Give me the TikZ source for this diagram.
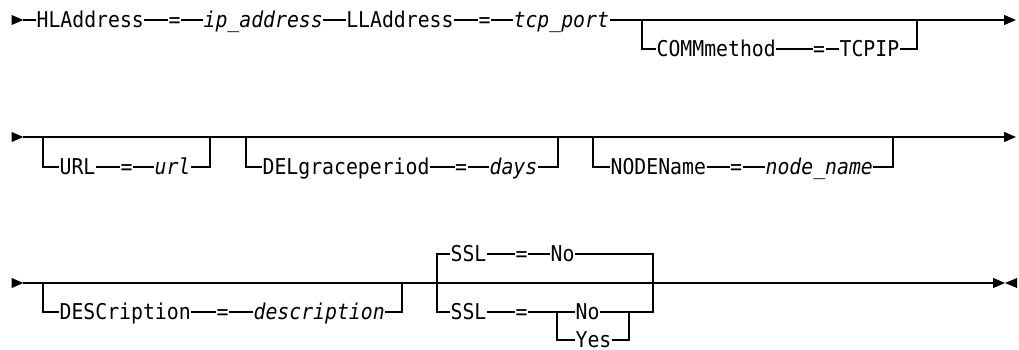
\documentclass[tikz,border=0pt]{standalone}
\usepackage{fontspec}
\usepackage{tikz}
\usetikzlibrary{arrows.meta}
\newfontfamily\railfont{DejaVu Sans Mono}
\newcommand{\railsize}{\railfont\fontsize{19.8}{24}\selectfont}
\newcommand{\rt}[1]{\scalebox{1}[1.1]{#1}}

\begin{document}
\begin{tikzpicture}[x=1pt, y=-1pt, line width=1.2pt,
  kw/.style={anchor=west, inner sep=0pt, font=\railsize, text height=19.5pt, text depth=3.6pt},
  var/.style={kw, font=\railsize\itshape},
  flat/.style={kw, text height=15.9pt, text depth=0pt},
  tip/.style={-{Triangle[length=12pt,width=10pt]}}]
  \useasboundingbox (0,0) rectangle (1019,350);

  \coordinate (s1) at (23.3,20);
  \coordinate (e1) at (1016,20);
  \fill (s1) -- ++(-11.6,-5) -- ++(0,10) -- cycle;
  \node[kw]  (hl)     at (36,20)    {\rt{HLAddress}};
  \node[kw]  (hleq)   at (168,20)   {\rt{=}};
  \node[var] (ip)     at (203,20)   {\rt{ip\_address}};
  \node[kw]  (ll)     at (345.7,20) {\rt{LLAddress}};
  \node[kw]  (lleq)   at (478,20)   {\rt{=}};
  \node[var] (port)   at (513,20)   {\rt{tcp\_port}};
  \draw (s1) -- (hl) -- (hleq) -- (ip) -- (ll) -- (lleq) -- (port);
  \draw[tip] (port) -- (e1);
  \coordinate (commin) at (642,20);
  \coordinate (commout) at (917,20);
  \node[kw]  (comm)   at (656,49)   {\rt{COMMmethod}};
  \node[kw]  (commeq) at (812.5,49) {\rt{=}};
  \node[kw]  (tcpip)  at (839,49)   {\rt{TCPIP}};
  \draw (commin) |- (comm) -- (commeq) -- (tcpip) -| (commout);

  \coordinate (s2) at (23.3,137);
  \coordinate (e2) at (1016,137);
  \fill (s2) -- ++(-11.6,-5) -- ++(0,10) -- cycle;
  \draw[tip] (s2) -- (e2);
  \coordinate (urlin) at (43,137);
  \coordinate (urlout) at (210,137);
  \node[kw]  (url)    at (59,167)    {\rt{URL}};
  \node[kw]  (urleq)  at (120,167)   {\rt{=}};
  \node[var] (urlval) at (154,167)   {\rt{url}};
  \draw (urlin) |- (url) -- (urleq) -- (urlval) -| (urlout);
  \coordinate (delin) at (246,137);
  \coordinate (delout) at (558,137);
  \node[kw]  (del)    at (262,167)   {\rt{DELgraceperiod}};
  \node[kw]  (deleq)  at (454.5,167) {\rt{=}};
  \node[var] (days)   at (489,167)   {\rt{days}};
  \draw (delin) |- (del) -- (deleq) -- (days) -| (delout);
  \coordinate (nodein) at (593,137);
  \coordinate (nodeout) at (893,137);
  \node[kw]  (nodenm) at (610,167)   {\rt{NODEName}};
  \node[kw]  (nodeeq) at (729.5,167) {\rt{=}};
  \node[var] (nodeval) at (765,167)  {\rt{node\_name}};
  \draw (nodein) |- (nodenm) -- (nodeeq) -- (nodeval) -| (nodeout);

  \coordinate (s3) at (23.3,283);
  \coordinate (e3) at (1005,283);
  \fill (s3) -- ++(-11.6,-5) -- ++(0,10) -- cycle;
  \draw[tip] (s3) -- (e3);
  \fill (e3) -- ++(12,-5) -- ++(0,10) -- cycle;
  \coordinate (descin) at (43,283);
  \coordinate (descout) at (402,283);
  \node[kw]  (desc)    at (59,312)  {\rt{DESCription}};
  \node[kw]  (desceq)  at (216,312) {\rt{=}};
  \node[var] (descval) at (253,312) {\rt{description}};
  \draw (descin) |- (desc) -- (desceq) -- (descval) -| (descout);
  \coordinate (sslin) at (437,283);
  \coordinate (sslout) at (653,283);
  \node[kw]  (ssla)   at (450,254) {\rt{SSL}};
  \node[kw]  (sslaeq) at (515,254) {\rt{=}};
  \node[kw]  (noa)    at (550,254) {\rt{No}};
  \draw (sslin) |- (ssla) -- (sslaeq) -- (noa) -| (sslout);
  \coordinate (yesin) at (557,312);
  \coordinate (yesout) at (629,312);
  \node[kw]  (sslb)   at (450,312) {\rt{SSL}};
  \node[kw]  (sslbeq) at (515,312) {\rt{=}};
  \node[kw]  (nob)    at (575,312) {\rt{No}};
  \node[flat] (yes)   at (575,340) {\rt{Yes}};
  \draw (sslin) |- (sslb) -- (sslbeq) -- (nob) -- (yesout) -| (sslout);
  \draw (yesin) |- (yes) -| (yesout);
\end{tikzpicture}
\end{document}
